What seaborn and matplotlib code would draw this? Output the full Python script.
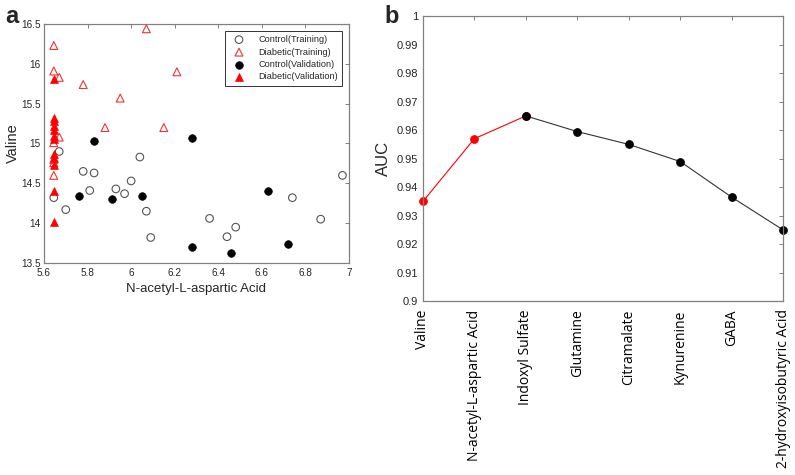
import pandas as pd
import seaborn as sns
import matplotlib.pyplot as plt

# panel a: N-acetyl-L-aspartic acid vs valine
ctrl_train_x = [5.645, 5.67, 5.70, 5.78, 5.81, 5.83, 5.93, 5.97, 6.00, 6.04, 6.07, 6.09, 6.36, 6.44, 6.48, 6.74, 6.87, 6.97]
ctrl_train_y = [14.32, 14.90, 14.17, 14.65, 14.41, 14.63, 14.43, 14.37, 14.53, 14.83, 14.15, 13.82, 14.06, 13.83, 13.95, 14.32, 14.05, 14.60]
diab_train_x = [5.645, 5.645, 5.67, 5.78, 5.95, 6.07, 6.21, 5.88, 6.15, 5.67, 5.645, 5.645, 5.645, 5.645]
diab_train_y = [16.23, 15.91, 15.83, 15.74, 15.57, 16.44, 15.90, 15.20, 15.20, 15.08, 15.01, 14.80, 14.76, 14.60]
ctrl_valid_x = [5.83, 6.28, 6.63, 5.76, 5.91, 6.05, 6.28, 6.46, 6.72]
ctrl_valid_y = [15.03, 15.07, 14.40, 14.34, 14.30, 14.34, 13.70, 13.62, 13.74]
diab_valid_x = [5.645] * 12
diab_valid_y = [15.81, 15.32, 15.28, 15.22, 15.17, 15.09, 15.06, 14.87, 14.82, 14.73, 14.40, 14.01]

# panel b: AUC while adding metabolites
metabolites = ['Valine', 'N-acetyl-L-aspartic Acid', 'Indoxyl Sulfate', 'Glutamine',
               'Citramalate', 'Kynurenine', 'GABA', '2-hydroxyisobutyric Acid']
auc = [0.935, 0.957, 0.965, 0.9595, 0.955, 0.949, 0.9365, 0.925]
n_red = 3  # first three points drawn in red

sns.set_style('white')
plt.rcParams['font.family'] = ['Liberation Sans', 'DejaVu Sans']

fig = plt.figure(figsize=(7.95, 4.75), dpi=100)
ax1 = fig.add_axes([0.0553, 0.4463, 0.3837, 0.5032])
ax2 = fig.add_axes([0.532, 0.366, 0.453, 0.600])

grey = '#808080'
red = '#ff0000'

sns.scatterplot(x=ctrl_train_x, y=ctrl_train_y, ax=ax1, marker='o', s=30,
                facecolors='none', edgecolor='#555555', linewidth=0.8, label='Control(Training)')
sns.scatterplot(x=diab_train_x, y=diab_train_y, ax=ax1, marker='^', s=32,
                facecolors='none', edgecolor='#ee3333', linewidth=0.8, label='Diabetic(Training)')
sns.scatterplot(x=ctrl_valid_x, y=ctrl_valid_y, ax=ax1, marker='o', s=30,
                color='black', edgecolor='black', linewidth=0.5, label='Control(Validation)')
sns.scatterplot(x=diab_valid_x, y=diab_valid_y, ax=ax1, marker='^', s=32,
                color=red, edgecolor=red, linewidth=0.5, label='Diabetic(Validation)')

ax1.set_xlim(5.6, 7)
ax1.set_ylim(13.5, 16.5)
xt = [5.6, 5.8, 6.0, 6.2, 6.4, 6.6, 6.8, 7.0]
yt = [13.5, 14, 14.5, 15, 15.5, 16, 16.5]
ax1.set_xticks(xt)
ax1.set_xticklabels(['%g' % v for v in xt])
ax1.set_yticks(yt)
ax1.set_yticklabels(['%g' % v for v in yt])
ax1.set_xlabel('N-acetyl-L-aspartic Acid', fontsize=9.5, labelpad=4)
ax1.set_ylabel('Valine', fontsize=10.5, labelpad=1)
leg = ax1.legend(loc='upper right', bbox_to_anchor=(0.977, 0.971), borderaxespad=0,
                 fontsize=6.6, frameon=True, fancybox=False, framealpha=1, edgecolor='#333333',
                 borderpad=0.45, handletextpad=1.0, labelspacing=0.38, handlelength=2.2)
leg.get_frame().set_linewidth(0.7)

# panel b
df = pd.DataFrame({'metabolite': metabolites, 'auc': auc})
sns.lineplot(data=df.iloc[:n_red], x='metabolite', y='auc', ax=ax2, color=red,
             linewidth=0.8, marker='o', markersize=5.5, markeredgecolor=red,
             sort=False, clip_on=False)
sns.lineplot(data=df.iloc[n_red - 1:], x='metabolite', y='auc', ax=ax2, color='#333333',
             linewidth=0.8, marker='o', markersize=5.5, markerfacecolor='black',
             markeredgecolor='black', sort=False, clip_on=False)
ax2.set_xlim(0, len(metabolites) - 1)
ax2.set_ylim(0.9, 1.0)
bt = [0.9 + 0.01 * i for i in range(11)]
ax2.set_yticks(bt)
ax2.set_yticklabels(['%g' % round(v, 2) for v in bt])
ax2.set_xticks(range(len(metabolites)))
ax2.set_xticklabels(metabolites, rotation=90, fontsize=10, family=['Open Sans', 'DejaVu Sans'])
ax2.set_xlabel('')
ax2.set_ylabel('AUC', fontsize=12, labelpad=4)

for ax in (ax1, ax2):
    for sp in ax.spines.values():
        sp.set_color(grey)
        sp.set_linewidth(0.9)
        sp.set_visible(True)
    ax.tick_params(direction='in', length=3, width=0.7, color=grey,
                   top=True, right=True, labelsize=7.2, labelcolor='#262626')
ax1.tick_params(axis='y', pad=2.5)
ax2.tick_params(axis='y', labelsize=8)
ax2.tick_params(axis='x', labelsize=10, labelcolor='black', pad=6)

fig.text(0.006, 0.965, 'a', fontsize=17, fontweight='bold', va='center')
fig.text(0.483, 0.965, 'b', fontsize=17, fontweight='bold', va='center')

fig.savefig('out.png', dpi=100)
